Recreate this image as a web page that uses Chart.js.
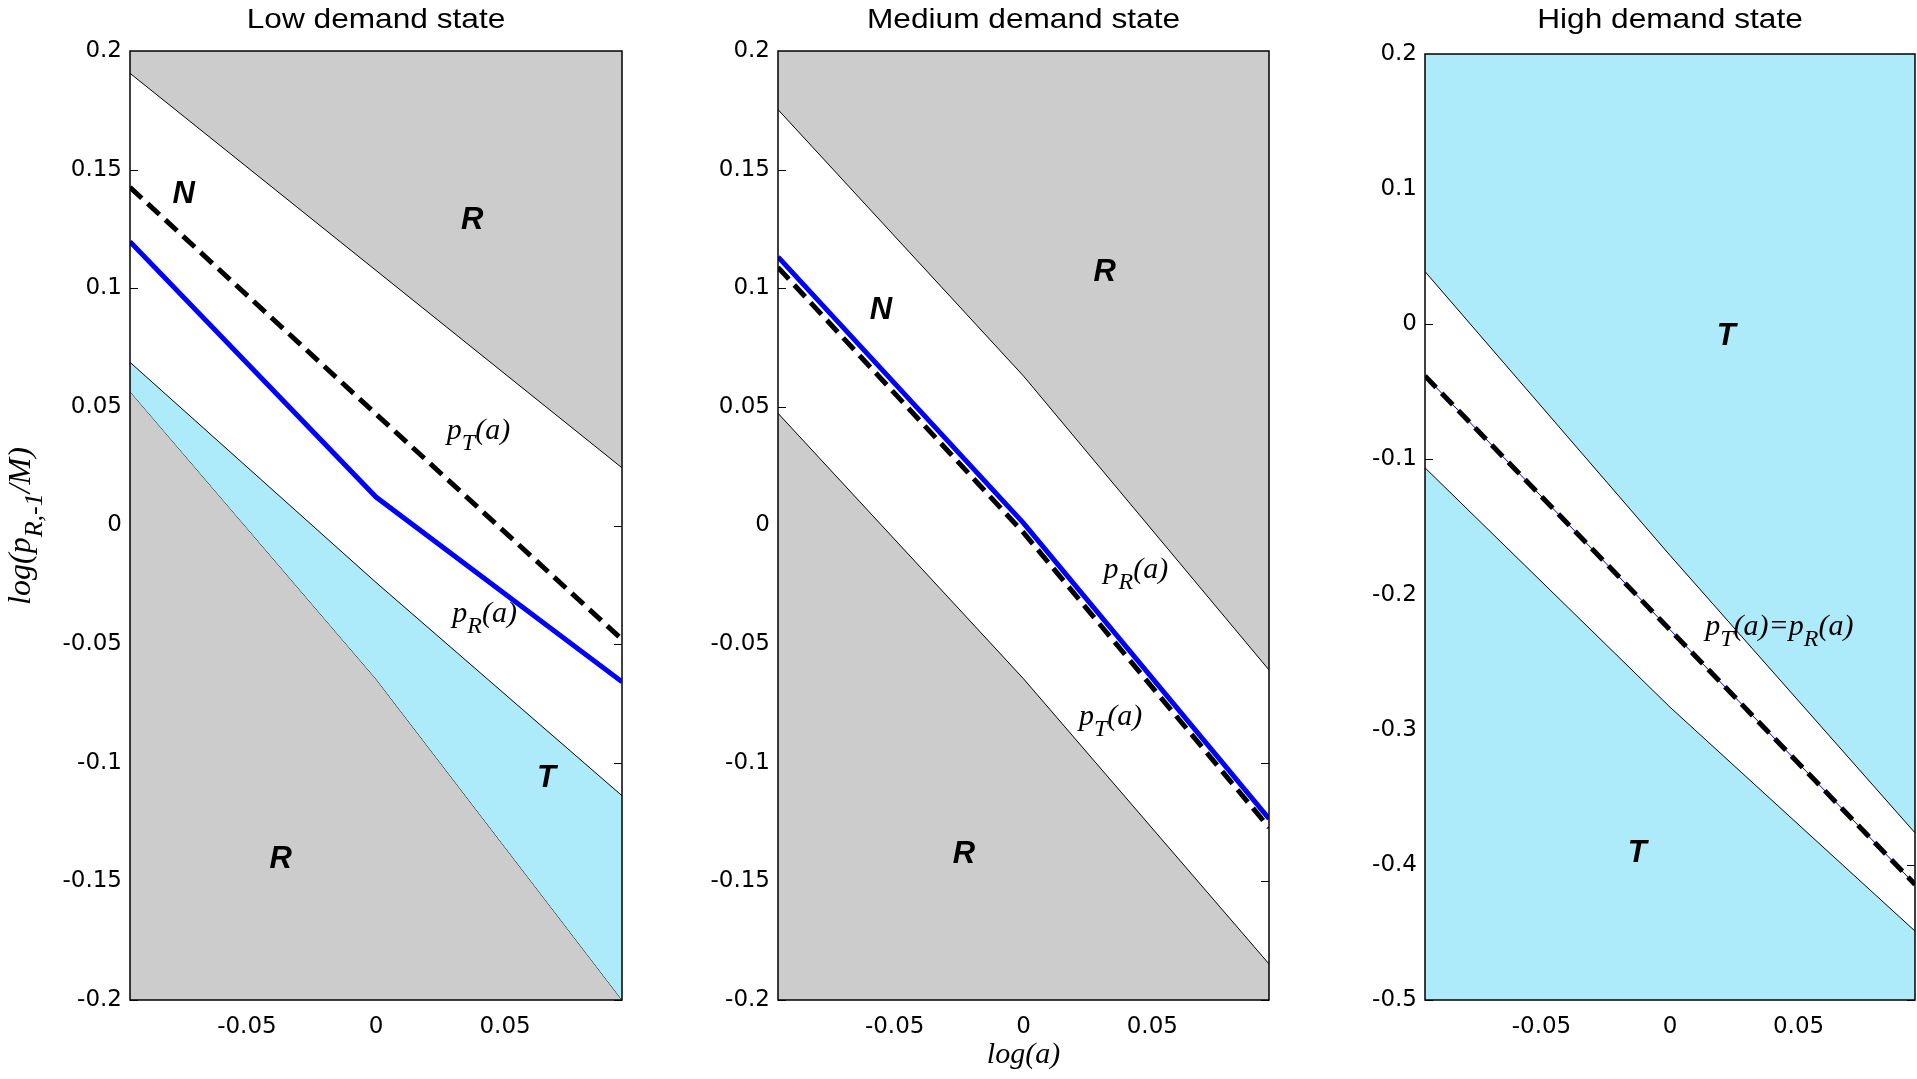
<!DOCTYPE html>
<html>
<head>
<meta charset="utf-8">
<script src="https://cdn.jsdelivr.net/npm/chart.js@4.4.0/dist/chart.umd.min.js"></script>
<style>
  html, body { margin: 0; padding: 0; background: #fff; width: 1917px; height: 1079px; overflow: hidden; }
  canvas { position: absolute; top: 0; }
</style>
</head>
<body>
<canvas id="lowChart" width="640" height="1079" style="left:0px"></canvas>
<canvas id="mediumChart" width="640" height="1079" style="left:650px"></canvas>
<canvas id="highChart" width="622" height="1079" style="left:1295px"></canvas>
<script>
// x grid shared by all panels: log(a)
const logA = [-0.0953, 0, 0.0953];
const xTicks = [-0.05, 0, 0.05];

// Low demand state
const lowYTicks = [-0.2, -0.15, -0.1, -0.05, 0, 0.05, 0.1, 0.15, 0.2];
const lowUpper = [0.1906, 0.1075, 0.0243];
const lowPT = [0.1425, 0.047, -0.048];
const lowPR = [0.1196, 0.012, -0.0659];
const lowTTop = [0.0688, -0.024, -0.1139];
const lowTBottom = [0.0565, -0.0647, -0.2];

// Medium demand state
const medYTicks = [-0.2, -0.15, -0.1, -0.05, 0, 0.05, 0.1, 0.15, 0.2];
const medUpper = [0.1753, 0.063, -0.0609];
const medPR = [0.1132, 0.001, -0.1236];
const medPT = [0.1088, -0.003, -0.1273];
const medLower = [0.0473, -0.0646, -0.1848];

// High demand state
const highYTicks = [-0.5, -0.4, -0.3, -0.2, -0.1, 0, 0.1, 0.2];
const highUpper = [0.039, -0.171, -0.3763];
const highPT = [-0.0382, -0.226, -0.4145];
const highPR = [-0.0382, -0.226, -0.4145];
const highLower = [-0.1062, -0.2833, -0.449];

// region letters and curve names (data coordinates)
const lowLetters = [['N', -0.0745, 0.1396], ['R', 0.0373, 0.1287], ['R', -0.0369, -0.1406], ['T', 0.066, -0.1066]];
const lowNames = [[[['p', 0], ['T', 1], ['(a)', 0]], 0.0397, 0.0396], [[['p', 0], ['R', 1], ['(a)', 0]], 0.0421, -0.0373]];
const medLetters = [['N', -0.0553, 0.0906], ['R', 0.0315, 0.1066], ['R', -0.0231, -0.1386]];
const medNames = [[[['p', 0], ['R', 1], ['(a)', 0]], 0.0436, -0.0187], [[['p', 0], ['T', 1], ['(a)', 0]], 0.0338, -0.0806]];
const highLetters = [['T', 0.0219, -0.0089], ['T', -0.0128, -0.3916]];
const highNames = [[[['p', 0], ['T', 1], ['(a)=p', 0], ['R', 1], ['(a)', 0]], 0.0425, -0.2242]];

const GRAY = '#cccccc';
const CYAN = '#adebfb';
const SANS = '"Liberation Sans", Arial, sans-serif';
const TICKFONT = '"DejaVu Sans", sans-serif';
const SERIF = '"Liberation Serif", "Times New Roman", serif';

function fmt(v) {
    return String(parseFloat(Number(v).toFixed(3)));
}

function line(values, opts) {
    return Object.assign({
        data: logA.map((x, i) => ({ x: x, y: values[i] })),
        borderColor: '#000',
        borderWidth: 1,
        pointRadius: 0,
        tension: 0,
        fill: false
    }, opts);
}

function drawParts(ctx, parts, cx, cy, size) {
    const main = 'italic ' + size + 'px ' + SERIF;
    const sub = 'italic ' + Math.round(size * 0.8) + 'px ' + SERIF;
    let w = 0;
    parts.forEach(p => { ctx.font = p[1] ? sub : main; w += ctx.measureText(p[0]).width; });
    let x = cx - w / 2;
    ctx.textAlign = 'left';
    ctx.textBaseline = 'middle';
    parts.forEach(p => {
        ctx.font = p[1] ? sub : main;
        ctx.fillText(p[0], x, p[1] ? cy + size * 0.42 : cy);
        x += ctx.measureText(p[0]).width;
    });
}

// inside ticks under the fills, box and text on top
const framePlugin = {
    id: 'frame',
    beforeDatasetsDraw(chart) {
        const { ctx, chartArea: a, scales: { x, y } } = chart;
        ctx.save();
        ctx.strokeStyle = '#000';
        ctx.lineWidth = 1;
        ctx.beginPath();
        y.ticks.forEach(t => {
            const py = Math.round(y.getPixelForValue(t.value)) + 0.5;
            ctx.moveTo(a.left, py); ctx.lineTo(a.left + 8, py);
            ctx.moveTo(a.right, py); ctx.lineTo(a.right - 8, py);
        });
        x.ticks.forEach(t => {
            const px = Math.round(x.getPixelForValue(t.value)) + 0.5;
            ctx.moveTo(px, a.bottom); ctx.lineTo(px, a.bottom - 8);
            ctx.moveTo(px, a.top); ctx.lineTo(px, a.top + 8);
        });
        ctx.stroke();
        ctx.restore();
    },
    afterDatasetsDraw(chart, args, opts) {
        const { ctx, chartArea: a, scales: { x, y } } = chart;
        ctx.save();
        ctx.strokeStyle = '#000';
        ctx.lineWidth = 1.5;
        ctx.strokeRect(a.left, a.top, a.right - a.left, a.bottom - a.top);
        ctx.fillStyle = '#000';

        ctx.font = 'bold italic 31px ' + SANS;
        ctx.textAlign = 'center';
        ctx.textBaseline = 'middle';
        opts.letters.forEach(l => ctx.fillText(l[0], x.getPixelForValue(l[1]), y.getPixelForValue(l[2])));
        opts.names.forEach(n => drawParts(ctx, n[0], x.getPixelForValue(n[1]), y.getPixelForValue(n[2]), 30));

        // title, slightly wide like the original
        ctx.save();
        ctx.translate((a.left + a.right) / 2, 20);
        ctx.scale(1.13, 1);
        ctx.font = '28px ' + SANS;
        ctx.textAlign = 'center';
        ctx.textBaseline = 'middle';
        ctx.fillText(opts.title, 0, 0);
        ctx.restore();

        if (opts.xLabel) {
            drawParts(ctx, [['log(a)', 0]], (a.left + a.right) / 2, 1055, 30);
        }
        if (opts.yLabel) {
            ctx.translate(22, 526);
            ctx.rotate(-Math.PI / 2);
            drawParts(ctx, [['log(p', 0], ['R,-1', 1], ['/M)', 0]], 0, 0, 32);
        }
        ctx.restore();
    }
};

function makeChart(id, datasets, yMin, yMax, yTicks, layout, frame) {
    new Chart(document.getElementById(id), {
        type: 'line',
        data: { datasets: datasets },
        plugins: [framePlugin],
        options: {
            responsive: false,
            animation: false,
            layout: { padding: { top: layout.top, right: layout.right, bottom: 0, left: 0 } },
            plugins: {
                legend: { display: false },
                title: { display: false },
                tooltip: { enabled: false },
                frame: frame
            },
            scales: {
                x: {
                    type: 'linear',
                    min: logA[0],
                    max: logA[logA.length - 1],
                    grid: { display: false, drawTicks: false },
                    border: { display: false },
                    afterBuildTicks: s => { s.ticks = xTicks.map(v => ({ value: v })); },
                    afterFit: s => { s.height = 79; },
                    ticks: { padding: 13, color: '#000', maxRotation: 0, autoSkip: false, font: { family: TICKFONT, size: 23 }, callback: fmt }
                },
                y: {
                    type: 'linear',
                    min: yMin,
                    max: yMax,
                    grid: { display: false, drawTicks: false },
                    border: { display: false },
                    afterBuildTicks: s => { s.ticks = yTicks.map(v => ({ value: v })); },
                    afterFit: s => { s.width = layout.yWidth; },
                    ticks: { padding: 8, color: '#000', autoSkip: false, font: { family: TICKFONT, size: 23 }, callback: fmt }
                }
            }
        }
    });
}

const dash = [16, 8];

makeChart('lowChart', [
    line(lowPT, { borderWidth: 5, borderDash: dash }),
    line(lowPR, { borderColor: '#0000ff', borderWidth: 5 }),
    line(lowUpper, { fill: 'end', backgroundColor: GRAY }),
    line(lowTTop, { fill: '+1', backgroundColor: CYAN }),
    line(lowTBottom, { fill: 'start', backgroundColor: GRAY })
], -0.2, 0.2, lowYTicks, { top: 51, right: 18, yWidth: 130 },
   { title: 'Low demand state', letters: lowLetters, names: lowNames, yLabel: true });

makeChart('mediumChart', [
    line(medPT, { borderWidth: 5, borderDash: dash }),
    line(medPR, { borderColor: '#0000ff', borderWidth: 5 }),
    line(medUpper, { fill: 'end', backgroundColor: GRAY }),
    line(medLower, { fill: 'start', backgroundColor: GRAY })
], -0.2, 0.2, medYTicks, { top: 51, right: 21, yWidth: 128 },
   { title: 'Medium demand state', letters: medLetters, names: medNames, xLabel: true });

makeChart('highChart', [
    line(highPT, { borderWidth: 5, borderDash: dash }),
    line(highPR, { borderColor: '#0000ff', borderWidth: 1 }),
    line(highUpper, { fill: 'end', backgroundColor: CYAN }),
    line(highLower, { fill: 'start', backgroundColor: CYAN })
], -0.5, 0.2, highYTicks, { top: 54, right: 2, yWidth: 130 },
   { title: 'High demand state', letters: highLetters, names: highNames });
</script>
</body>
</html>
